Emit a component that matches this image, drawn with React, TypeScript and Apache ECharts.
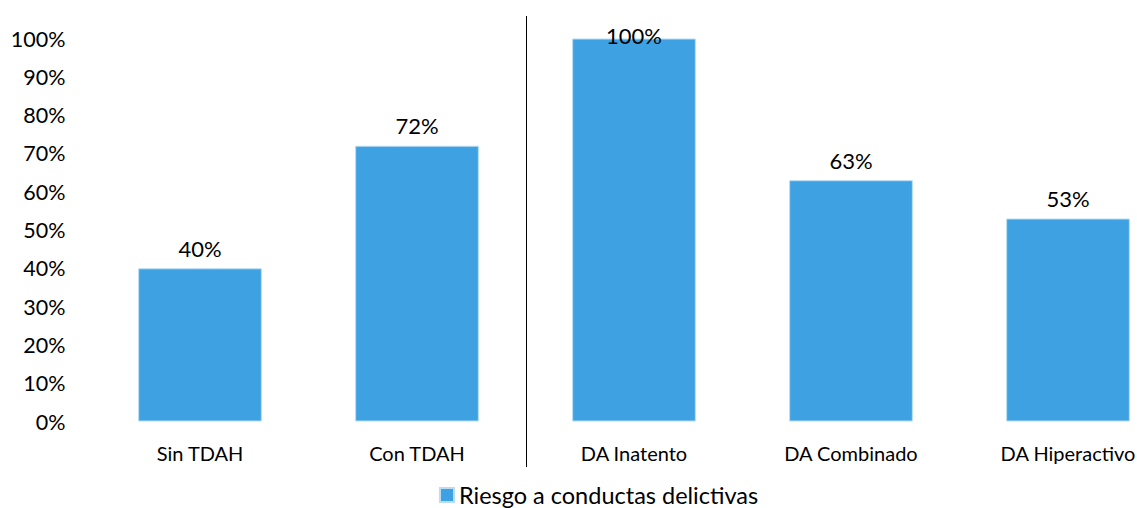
import React, { useEffect, useRef } from "react";
import * as echarts from "echarts";

const categories = ["Sin TDAH", "Con TDAH", "DA Inatento", "DA Combinado", "DA Hiperactivo"];
const values = [40, 72, 100, 63, 53];
const seriesName = "Riesgo a conductas delictivas";
const FONT = "Lato, 'Open Sans', sans-serif";

export default function App() {
  const ref = useRef<HTMLDivElement>(null);
  useEffect(() => {
    if (!ref.current) return;
    const chart = echarts.init(ref.current, undefined, { renderer: "svg" });
    chart.setOption({
      animation: false,
      textStyle: { fontFamily: FONT },
      grid: { left: 91.5, right: 3.5, top: 38.5, bottom: 86.5, containLabel: false },
      legend: {
        data: [seriesName],
        left: 439,
        top: 482,
        icon: "rect",
        itemWidth: 14,
        itemHeight: 14,
        itemGap: 7,
        padding: 0,
        textStyle: { fontSize: 23.5, color: "#000", fontFamily: FONT, lineHeight: 26 },
      },
      xAxis: {
        type: "category",
        data: categories,
        axisLine: { show: false },
        axisTick: { show: false },
        axisLabel: { fontSize: 20, color: "#000", margin: 21, fontFamily: FONT },
      },
      yAxis: {
        type: "value",
        min: 0,
        max: 100,
        interval: 10,
        splitLine: { show: false },
        axisLine: { show: false },
        axisTick: { show: false },
        axisLabel: { fontSize: 21.5, color: "#000", margin: 26, formatter: "{value}%", fontFamily: FONT },
      },
      graphic: [
        {
          type: "line",
          shape: { x1: 526.5, y1: 16, x2: 526.5, y2: 467 },
          style: { stroke: "#000", lineWidth: 1 },
        },
      ],
      series: [
        {
          name: seriesName,
          type: "bar",
          barWidth: "57%",
          itemStyle: { color: "#3DA1E2", borderColor: "#B9DDF5", borderWidth: 1 },
          label: {
            show: true,
            position: "top",
            distance: 9,
            formatter: "{c}%",
            fontSize: 22,
            color: "#000",
            fontFamily: FONT,
          },
          data: values.map((v) =>
            v >= 100 ? { value: v, label: { distance: -8 } } : { value: v }
          ),
        },
      ],
    });
    return () => chart.dispose();
  }, []);
  return (
    <div style={{ position: "absolute", left: 0, top: 0, width: 1137, height: 508, overflow: "hidden", background: "#fff" }}>
      <div ref={ref} style={{ width: 1180, height: 508 }} />
    </div>
  );
}
